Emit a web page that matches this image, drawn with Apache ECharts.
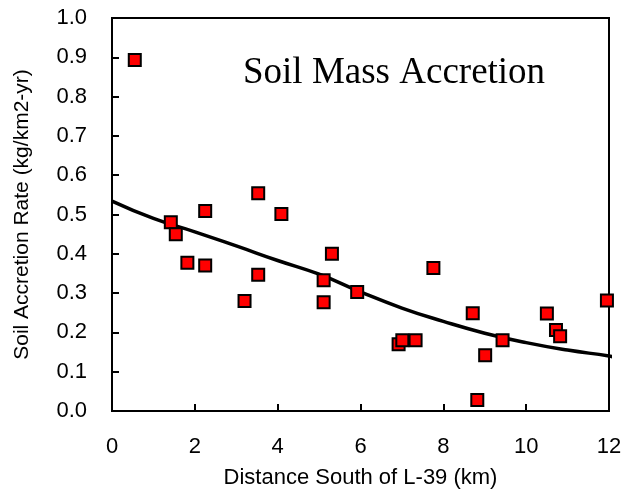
<!DOCTYPE html>
<html>
<head>
<meta charset="utf-8">
<script src="https://cdn.jsdelivr.net/npm/echarts@6/dist/echarts.min.js"></script>
<style>
  html, body { margin: 0; padding: 0; background: #fff; }
  #chart { width: 625px; height: 496px; }
</style>
</head>
<body>
<div id="chart"></div>
<script>
// measured points: distance south of L-39 (km) and accretion rate
var distKm = [0.55, 1.42, 1.54, 1.82, 2.25, 2.25, 3.2, 3.53, 3.53, 4.09, 5.11, 5.11, 5.31, 5.92,
  6.92, 7.01, 7.33, 7.76, 8.71, 8.82, 9.01, 9.43, 10.5, 10.72, 10.82, 11.95];
var accretion = [0.893, 0.48, 0.45, 0.377, 0.509, 0.37, 0.28, 0.554, 0.347, 0.501, 0.333, 0.277, 0.40, 0.303,
  0.17, 0.18, 0.18, 0.364, 0.249, 0.028, 0.142, 0.18, 0.248, 0.206, 0.19, 0.281];

// fitted curve
var fitX = [0, 1, 2, 3, 4, 5, 6, 7, 8, 9, 10, 11, 12, 12.15];
var fitY = [0.534, 0.49, 0.456, 0.42, 0.383, 0.348, 0.303, 0.262, 0.228, 0.198, 0.174, 0.155, 0.14, 0.136];

var xTicks = [0, 2, 4, 6, 8, 10, 12];

var chart = echarts.init(document.getElementById('chart'));

var pts = distKm.map(function (x, i) { return [x, accretion[i]]; });
var fit = fitX.map(function (x, i) { return [x, fitY[i]]; });

chart.setOption({
  animation: false,
  title: {
    text: 'Soil Mass Accretion',
    left: 238,
    top: 50,
    textStyle: { fontFamily: 'Liberation Serif', fontSize: 37, fontWeight: 'normal', color: '#000' }
  },
  grid: {
    left: 112, right: 16, top: 18, bottom: 85,
    show: true, borderColor: '#000', borderWidth: 2,
    outerBoundsMode: 'none'
  },
  xAxis: {
    type: 'value',
    min: xTicks[0], max: xTicks[xTicks.length - 1], interval: 2,
    name: 'Distance South of L-39 (km)',
    nameLocation: 'middle',
    nameGap: 56,
    nameTextStyle: { fontFamily: 'Liberation Sans', fontSize: 22, color: '#000' },
    axisLine: { lineStyle: { color: '#000', width: 2 } },
    axisTick: { inside: true, length: 7, lineStyle: { color: '#000', width: 2 } },
    axisLabel: { fontFamily: 'Liberation Sans', fontSize: 22, color: '#000', margin: 25 },
    splitLine: { show: false }
  },
  yAxis: {
    type: 'value',
    min: 0, max: 1, interval: 0.1,
    name: 'Soil Accretion Rate (kg/km2-yr)',
    nameLocation: 'middle',
    nameGap: 79,
    nameTextStyle: { fontFamily: 'Liberation Sans', fontSize: 21, color: '#000' },
    axisLine: { lineStyle: { color: '#000', width: 2 } },
    axisTick: { inside: true, length: 7, lineStyle: { color: '#000', width: 2 } },
    axisLabel: {
      fontFamily: 'Liberation Sans', fontSize: 22, color: '#000', margin: 25,
      formatter: function (v) { return v.toFixed(1); }
    },
    splitLine: { show: false }
  },
  series: [
    {
      type: 'line',
      data: fit,
      smooth: true,
      showSymbol: false,
      clip: false,
      lineStyle: { color: '#000', width: 3.5 },
      z: 2
    },
    {
      type: 'scatter',
      data: pts,
      symbol: 'rect',
      symbolSize: 12,
      itemStyle: { color: '#ff0000', opacity: 1, borderColor: '#000', borderWidth: 2 },
      z: 3
    }
  ]
});
</script>
</body>
</html>
